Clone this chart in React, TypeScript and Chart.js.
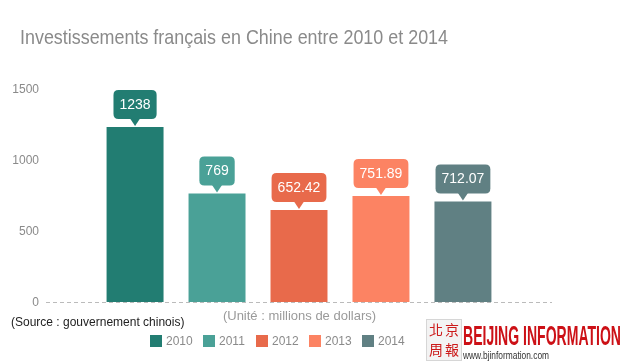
import React, { useEffect, useRef } from "react";
import { Chart, registerables } from "chart.js";

Chart.register(...registerables);

const categories = ["Investissements"];
const years = ["2010", "2011", "2012", "2013", "2014"];
const values = [1238, 769, 652.42, 751.89, 712.07];
const valueLabels = ["1238", "769", "652.42", "751.89", "712.07"];
const colors = ["#227d72", "#4aa197", "#e86a4b", "#fc8363", "#608083"];
const yTickValues = [0, 500, 1000, 1500];

const titleText = "Investissements français en Chine entre 2010 et 2014";
const unitText = "(Unité : millions de dollars)";
const sourceText = "(Source : gouvernement chinois)";

const FONT = '"Liberation Sans", Arial, sans-serif';

function roundRect(ctx: CanvasRenderingContext2D, x: number, y: number, w: number, h: number, r: number) {
  ctx.beginPath();
  ctx.moveTo(x + r, y);
  ctx.lineTo(x + w - r, y);
  ctx.quadraticCurveTo(x + w, y, x + w, y + r);
  ctx.lineTo(x + w, y + h - r);
  ctx.quadraticCurveTo(x + w, y + h, x + w - r, y + h);
  ctx.lineTo(x + r, y + h);
  ctx.quadraticCurveTo(x, y + h, x, y + h - r);
  ctx.lineTo(x, y + r);
  ctx.quadraticCurveTo(x, y, x + r, y);
  ctx.closePath();
}

function fitText(ctx: CanvasRenderingContext2D, text: string, x: number, y: number, width: number) {
  const w = ctx.measureText(text).width;
  ctx.save();
  ctx.translate(x, y);
  ctx.scale(width / w, 1);
  ctx.fillText(text, 0, 0);
  ctx.restore();
}

const overlayPlugin = {
  id: "overlay",
  afterDatasetsDraw(chart: any) {
    const ctx: CanvasRenderingContext2D = chart.ctx;
    ctx.save();
    chart.data.datasets.forEach((ds: any, i: number) => {
      const meta = chart.getDatasetMeta(i);
      const el = meta.data[0];
      if (!el) return;
      const x = el.x;
      const top = el.y;
      const label = valueLabels[i];
      ctx.font = "14px " + FONT;
      const tw = ctx.measureText(label).width;
      const w = tw + 12;
      const h = 29;
      const bottom = top - 8;
      const by = bottom - h;
      ctx.fillStyle = ds.backgroundColor;
      roundRect(ctx, x - w / 2, by, w, h, 5);
      ctx.fill();
      ctx.beginPath();
      ctx.moveTo(x - 5, bottom - 0.5);
      ctx.lineTo(x, bottom + 7);
      ctx.lineTo(x + 5, bottom - 0.5);
      ctx.closePath();
      ctx.fill();
      ctx.fillStyle = "#ffffff";
      ctx.textAlign = "center";
      ctx.textBaseline = "middle";
      ctx.fillText(label, x, by + h / 2 + 0.5);
    });
    ctx.restore();
  },
  afterDraw(chart: any) {
    const ctx: CanvasRenderingContext2D = chart.ctx;
    ctx.save();
    // Title
    ctx.font = "21px " + FONT;
    ctx.fillStyle = "#8a8a8a";
    ctx.textAlign = "left";
    ctx.textBaseline = "alphabetic";
    fitText(ctx, titleText, 20, 43.5, 428);

    // Unit
    ctx.font = "13px " + FONT;
    ctx.fillStyle = "#9a9a9a";
    ctx.textAlign = "center";
    ctx.textBaseline = "middle";
    ctx.fillText(unitText, 299.5, 316);

    // Source
    ctx.font = "12px " + FONT;
    ctx.fillStyle = "#222222";
    ctx.textAlign = "left";
    ctx.fillText(sourceText, 11, 323);

    // Legend
    ctx.font = "12px " + FONT;
    let lx = 150;
    chart.data.datasets.forEach((ds: any) => {
      ctx.fillStyle = ds.backgroundColor;
      ctx.fillRect(lx, 335, 12, 12);
      ctx.fillStyle = "#8a8a8a";
      ctx.textAlign = "left";
      ctx.textBaseline = "middle";
      ctx.fillText(ds.label, lx + 16, 341.5);
      lx += 53;
    });

    // Logo
    ctx.fillStyle = "#f3f3f3";
    ctx.fillRect(426, 319, 36, 42);
    ctx.strokeStyle = "#d6d6d6";
    ctx.lineWidth = 1;
    ctx.strokeRect(426.5, 319.5, 35, 41);
    ctx.fillStyle = "#cc1a1a";
    ctx.font = '14px "Noto Sans CJK TC", "Noto Sans CJK SC", sans-serif';
    ctx.textAlign = "center";
    ctx.textBaseline = "middle";
    ctx.fillText("北", 436, 330);
    ctx.fillText("京", 452, 330);
    ctx.fillText("周", 436, 350);
    ctx.fillText("報", 452, 350);

    ctx.font = "bold 27px " + FONT;
    ctx.textAlign = "left";
    ctx.textBaseline = "alphabetic";
    ctx.fillStyle = "#cc1016";
    fitText(ctx, "BEIJING INFORMATION", 463, 345, 158);

    ctx.font = "10px " + FONT;
    ctx.fillStyle = "#333333";
    fitText(ctx, "www.bjinformation.com", 463, 359, 86);

    ctx.restore();
  },
};

export default function App() {
  const canvasRef = useRef<HTMLCanvasElement | null>(null);

  useEffect(() => {
    if (!canvasRef.current) return;
    const chart = new Chart(canvasRef.current, {
      type: "bar",
      data: {
        labels: categories,
        datasets: years.map((y, i) => ({
          label: y,
          data: [values[i]],
          backgroundColor: colors[i],
          borderWidth: 0,
          categoryPercentage: 0.81,
          barPercentage: 0.695,
        })),
      },
      options: {
        responsive: false,
        animation: false,
        devicePixelRatio: 1,
        layout: { padding: { left: 0, right: 69, top: 90, bottom: 59.5 } },
        plugins: {
          legend: { display: false },
          title: { display: false },
          tooltip: { enabled: false },
        },
        scales: {
          x: { display: false },
          y: {
            min: 0,
            max: 1500,
            afterFit: (scale: any) => {
              scale.width = 46;
            },
            afterBuildTicks: (scale: any) => {
              scale.ticks = yTickValues.map((v) => ({ value: v }));
            },
            ticks: {
              color: "#8a8a8a",
              font: { family: FONT, size: 12 },
              padding: 7,
              callback: (v: any) => String(v),
            },
            grid: {
              drawTicks: false,
              color: (c: any) => (c.tick && c.tick.value === 0 ? "#bbbbbb" : "rgba(0,0,0,0)"),
              lineWidth: 1,
            },
            border: { display: false, dash: [4, 3] },
          },
        },
      },
      plugins: [overlayPlugin],
    });
    return () => chart.destroy();
  }, []);

  return (
    <div style={{ position: "absolute", left: 0, top: 0, width: 621, height: 362, background: "#ffffff" }}>
      <canvas ref={canvasRef} width={621} height={362} style={{ display: "block" }} />
    </div>
  );
}
